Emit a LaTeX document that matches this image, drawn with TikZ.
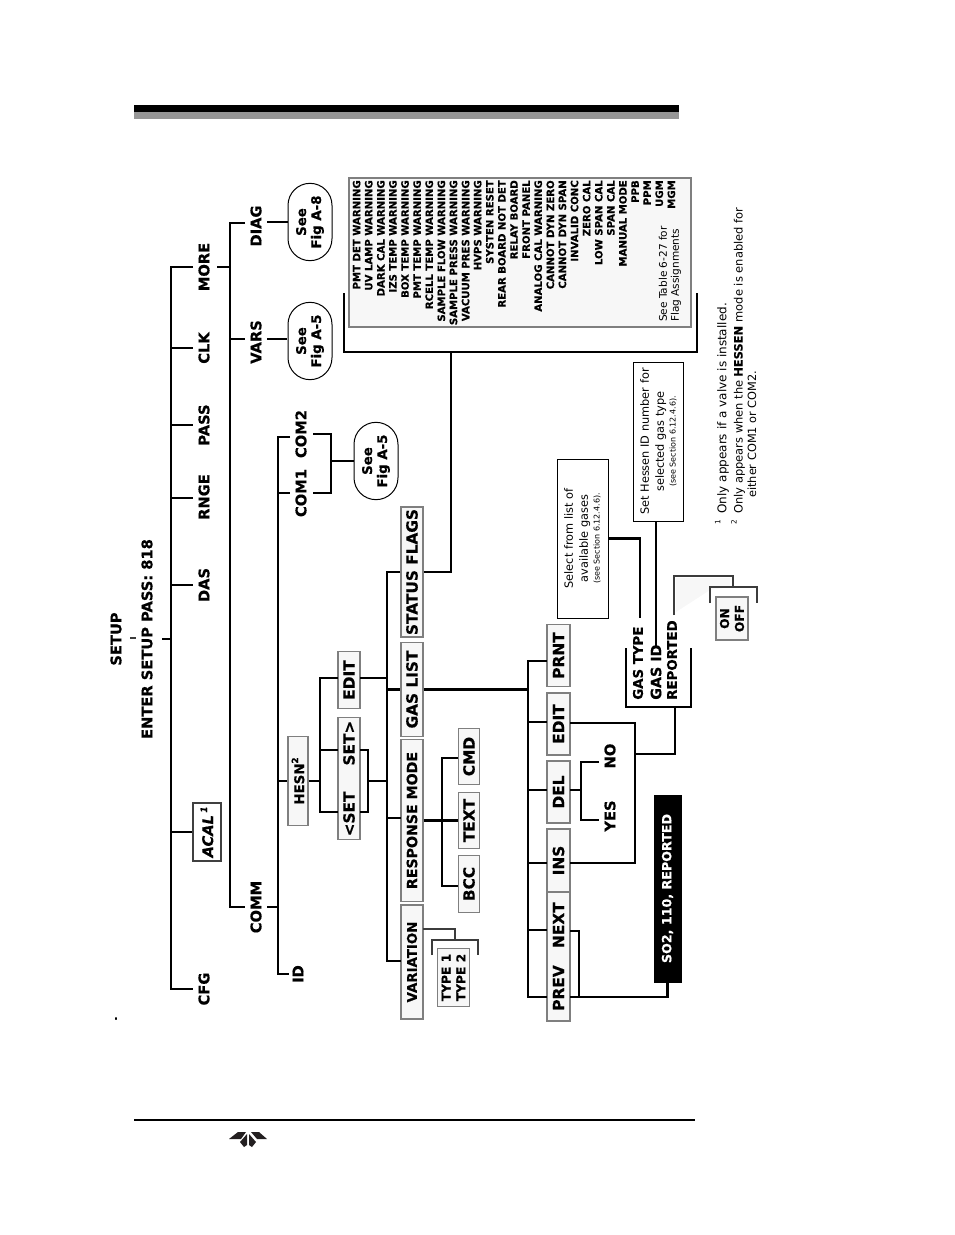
\documentclass[tikz,border=0pt]{standalone}
\usepackage{fontspec}
\setmainfont{DejaVu Sans}[BoldFeatures={FakeBold=0.5},BoldItalicFeatures={FakeBold=0.5}]
\usepackage{xcolor}
\definecolor{panelgray}{HTML}{F7F7F7}
\definecolor{edgegray}{HTML}{7F7F7F}
\definecolor{wiredark}{HTML}{3C3C3C}
\definecolor{logoink}{HTML}{231F20}
\newcommand{\supmark}[1]{{\fontsize{6.5}{7}\selectfont\raisebox{4.5pt}{#1}}}
\begin{document}
\begin{tikzpicture}[
  x=0.75pt,y=-0.75pt,
  wire/.style={line width=2pt,line cap=butt,line join=miter},
  softwire/.style={line width=2pt,draw=wiredark,line join=miter},
  lab/.style={font=\bfseries\fontsize{11}{13}\selectfont,rotate=90,inner sep=0pt},
  foot/.style={font=\fontsize{8.5}{11}\selectfont,rotate=90,inner sep=0pt},
  keybox/.style={draw=edgegray,fill=panelgray,line width=0.9pt,rotate=90,inner sep=0pt,font=\bfseries\fontsize{11.5}{13}\selectfont},
  optbox/.style={keybox,align=center,font=\bfseries\fontsize{9.2}{11.2}\selectfont},
  seebox/.style={draw=black,line width=0.75pt,fill=white,rounded corners=16.5pt,rotate=90,minimum width=58pt,minimum height=33pt,
                 font=\bfseries\fontsize{10}{11.25}\selectfont,align=center,inner sep=0pt},
  plainbox/.style={draw=black,line width=0.75pt,fill=white,rotate=90,inner sep=0pt,align=center,font=\fontsize{8.5}{11.25}\selectfont}]
\useasboundingbox (0,0) rectangle (954,1235);
% page rules
\fill[black] (134,105) rectangle (679,112);
\fill[black!41] (134,112) rectangle (679,119);
\draw[line width=0.9pt] (134,1120) coordinate (ruleL) -- (695,1120) coordinate (ruleR);
% logo
\fill[logoink] (229,1139) -- (238,1132) -- (246,1132) -- (241,1139) -- cycle;
\fill[logoink] (267,1139) -- (259,1132) -- (251,1132) -- (257,1139) -- cycle;
\fill[logoink] (247,1134) -- (240,1142) -- (244,1147) -- (247,1145) -- cycle;
\fill[logoink] (249,1134) -- (256,1142) -- (252,1147) -- (249,1145) -- cycle;
\node[font=\bfseries\fontsize{8}{9}\selectfont,inner sep=0pt] (stray) at (116,1018.5) {.};
% head
\node[lab] (setup) at (116,639) {SETUP};
\node[lab] (enter) at (147,639) {ENTER SETUP PASS: 818};
\draw[line width=0.8pt,draw=wiredark] (130,638) coordinate (tickA) -- (136,638) coordinate (tickB);
% first level
\node[lab] (more) at (204,267) {MORE};
\node[lab] (clk) at (204,348) {CLK};
\node[lab] (pass) at (204,425) {PASS};
\node[lab] (rnge) at (204,497) {RNGE};
\node[lab] (das) at (204,585) {DAS};
\node[lab] (cfg) at (204,989) {CFG};
\node[keybox,draw=black!75,fill=white,minimum width=43.5pt,minimum height=21pt,font=\bfseries\itshape\fontsize{11}{13}\selectfont] (acal) at (207,832) {ACAL\,\supmark{1}};
\draw[wire] (193,267) -- (171,267) -- (171,989) -- (193,989);
\draw[wire] (162,639) -- (171,639);
\draw[wire] (171,348) -- (193,348);
\draw[wire] (171,425) -- (193,425);
\draw[wire] (171,498) -- (193,498);
\draw[wire] (171,585) -- (193,585);
\draw[wire] (171,832) -- (acal.north);
% second level
\node[lab] (diag) at (256,226) {DIAG};
\node[lab] (vars) at (256,342) {VARS};
\node[lab] (comm) at (256,907) {COMM};
\node[seebox] (seeE) at (310,222) {See\\Fig A-8};
\node[seebox] (seeF) at (310,341) {See\\Fig A-5};
\draw[wire] (217,267) -- (230,267);
\draw[wire] (245,223) -- (230,223) -- (230,907) -- (245,907);
\draw[wire] (230,339) -- (245,339);
\draw[wire] (267,222) -- (seeE.north);
\draw[wire] (267,339) -- (287,339);
% comm branch
\node[lab] (com2) at (301,434) {COM2};
\node[lab] (com1) at (301,493) {COM1};
\node[lab] (id) at (298,974) {ID};
\node[seebox] (seeC) at (376,461) {See\\Fig A-5};
\node[keybox,minimum width=66.5pt,minimum height=15pt,font=\bfseries\fontsize{10}{12}\selectfont] (hesn) at (298,781) {HESN\supmark{2}};
\draw[wire] (290,437) -- (278,437) -- (278,974) -- (289,974);
\draw[wire] (278,493) -- (290,493);
\draw[wire] (267,907) -- (278,907);
\draw[wire] (278,781) -- (hesn.north);
\draw[wire] (313,434) -- (331,434) -- (331,493) -- (313,493);
\draw[wire] (331,461) -- (seeC.north);
% hesn keys
\node[keybox,minimum width=42.5pt,minimum height=16.5pt] (hedit) at (349,680) {EDIT};
\node[keybox,minimum width=92pt,minimum height=16.5pt] (hset) at (349,778.5) {<SET\hspace{19.5pt}SET>};
\draw[wire] (hesn.south) -- (320,781);
\draw[wire] (338,678) -- (320,678) -- (320,812) -- (338,812);
\draw[wire] (320,750) -- (338,750);
\draw[wire] (360,750) -- (368,750) -- (368,812) -- (360,812);
\draw[wire] (368,781) -- (387,781);
\draw[wire] (360,678) -- (387,678);
% third level keys
\node[keybox,minimum width=97.5pt,minimum height=16.5pt] (flags) at (412,572) {STATUS FLAGS};
\node[keybox,minimum width=70pt,minimum height=16.5pt] (gaslist) at (412,689.5) {GAS LIST};
\node[keybox,minimum width=122pt,minimum height=16.5pt,font=\bfseries\fontsize{10.6}{13}\selectfont] (respmode) at (412,820.5) {RESPONSE MODE};
\node[keybox,minimum width=85.5pt,minimum height=16.5pt,font=\bfseries\fontsize{10}{13}\selectfont] (variation) at (412,962) {VARIATION};
\draw[wire] (flags.north) -- (387,572) -- (387,961) -- (401,961);
\draw[wire] (387,689.5) -- (gaslist.north);
\draw[wire] (387,818) -- (401,818);
% status flags panel
\node[draw=edgegray,fill=panelgray,line width=0.9pt,minimum width=256.5pt,minimum height=111.75pt,inner sep=0pt] (panel) at (520,252.5) {};
\node[rotate=90,anchor=north east,inner sep=0pt,align=right,font=\bfseries\fontsize{7.6}{9.08}\selectfont] (flaglist) at (352.5,180) {%
PMT DET WARNING\\UV LAMP WARNING\\DARK CAL WARNING\\IZS TEMP WARNING\\BOX TEMP WARNING\\PMT TEMP WARNING\\RCELL TEMP WARNING\\SAMPLE FLOW WARNING\\SAMPLE PRESS WARNING\\VACUUM PRES WARNING\\HVPS WARNING\\SYSTEN RESET\\REAR BOARD NOT DET\\RELAY BOARD\\FRONT PANEL\\ANALOG CAL WARNING\\CANNOT DYN ZERO\\CANNOT DYN SPAN\\INVALID CONC\\ZERO CAL\\LOW SPAN CAL\\SPAN CAL\\MANUAL MODE\\PPB\\PPM\\UGM\\MGM};
\node[rotate=90,anchor=north west,inner sep=0pt,align=left,font=\fontsize{7.9}{9.05}\selectfont] (flagnote) at (658.5,322) {See Table 6-27 for\\Flag Assignments};
\draw[wire] (flags.south) -- (451,572) -- (451,352);
\draw[wire] (344,293) -- (344,352) -- (697,352) -- (697,293);
% response mode keys
\node[keybox,minimum width=42.5pt,minimum height=16pt] (cmd) at (469,756.5) {CMD};
\node[keybox,minimum width=42.5pt,minimum height=16pt] (text) at (469,820.5) {TEXT};
\node[keybox,minimum width=42.5pt,minimum height=16pt] (bcc) at (469,884) {BCC};
\draw[wire] (respmode.south) -- (text.north);
\draw[wire] (458,758) -- (442,758) -- (442,886) -- (458,886);
% variation options
\node[optbox,minimum width=44pt,minimum height=24.5pt] (types) at (453.5,977.5) {TYPE 1\\TYPE 2};
\draw[softwire] (423,929) -- (455,929) -- (455,940);
\draw[softwire] (432,955) -- (432,940) -- (478,940) -- (478,955);
% gas list keys
\node[keybox,minimum width=47pt,minimum height=17.25pt] (prnt) at (558.5,655.5) {PRNT};
\node[keybox,minimum width=46.5pt,minimum height=17.25pt] (gedit) at (558.5,724) {EDIT};
\node[keybox,minimum width=46.5pt,minimum height=17.25pt] (del) at (558.5,792) {DEL};
\node[keybox,minimum width=47.25pt,minimum height=17.25pt] (ins) at (558.5,860.5) {INS};
\node[keybox,minimum width=96.75pt,minimum height=17.25pt] (prevnext) at (558.5,956.5) {PREV\hspace{13pt}NEXT};
\draw[wire] (gaslist.south) -- (528,689.5);
\draw[wire] (547,661) -- (528,661) -- (528,997) -- (547,997);
\draw[wire] (528,722) -- (547,722);
\draw[wire] (528,790) -- (547,790);
\draw[wire] (528,863) -- (547,863);
\draw[wire] (528,930) -- (547,930);
% del
\node[lab] (no) at (610,756) {NO};
\node[lab] (yes) at (610,816) {YES};
\draw[wire] (570,790) -- (581,790);
\draw[wire] (599,762) -- (581,762) -- (581,820) -- (599,820);
% insert and edit to the gas fields
\draw[wire] (570,723) -- (635,723) -- (635,863) -- (570,863);
\draw[wire] (635,754) -- (675,754) -- (675,707);
\draw[wire] (626,648) -- (626,707) -- (691,707) -- (691,648);
\node[lab,anchor=west,font=\bfseries\fontsize{10}{13}\selectfont] (gastype) at (638,700) {GAS TYPE};
\node[lab,anchor=west,font=\bfseries\fontsize{10.7}{13}\selectfont] (gasid) at (656,700) {GAS ID};
\node[lab,anchor=west,font=\bfseries\fontsize{10}{13}\selectfont] (reported) at (672,700) {REPORTED};
% next and prev to the black bar
\node[draw=black,fill=black,text=white,rotate=90,minimum width=140.25pt,minimum height=20.25pt,inner sep=0pt,font=\bfseries\fontsize{9.5}{10}\selectfont] (sobar) at (667.5,888.5) {SO2, 110, REPORTED};
\draw[wire] (570,931) -- (579,931) -- (579,997);
\draw[wire] (570,997) -- (667.5,997) -- (sobar.west);
% help boxes
\node[plainbox,minimum width=119.25pt,minimum height=38.25pt] (selbox) at (582.5,538.5) {Select from list of\\available gases\\[-2.5pt]{\fontsize{6}{8}\selectfont (see Section 6.12.4.6).}};
\node[plainbox,minimum width=119.25pt,minimum height=37pt] (setbox) at (658.5,441.5) {Set Hessen ID number for\\selected gas type\\[-2.5pt]{\fontsize{6}{8}\selectfont (see Section 6.12.4.6).}};
\coordinate (gasidtop) at (656,647);
\coordinate (gastypetop) at (640,618);
\draw[wire] (selbox.south) -- (gastypetop |- selbox.south) -- (gastypetop);
\draw[wire] (gasidtop |- setbox.west) -- (gasidtop);
\fill[panelgray] (676,578) -- (730,578) -- (730,587) -- (710,590) -- (676,612) -- cycle;
\draw[softwire] (674,615) -- (674,576) -- (733,576) -- (733,587);
\draw[softwire] (710,603) -- (710,587) -- (757,587) -- (757,603);
\node[optbox,minimum width=32.25pt,minimum height=24pt] (onoff) at (732,618.5) {ON\\OFF};
% footnotes
\node[foot,anchor=west,font=\fontsize{9}{11}\selectfont] (footA) at (722,525) {\supmark{\fontsize{5.5}{7}\selectfont 1}\hspace{2pt} Only appears if a valve is installed.};
\node[foot,anchor=west,font=\fontsize{8.6}{11}\selectfont] (footB) at (738,525) {\supmark{\fontsize{5.5}{7}\selectfont 2}\hspace{2pt} Only appears when the \textbf{HESSEN} mode is enabled for};
\node[foot,anchor=west] (footC) at (752,498) {either COM1 or COM2.};
\end{tikzpicture}
\end{document}
